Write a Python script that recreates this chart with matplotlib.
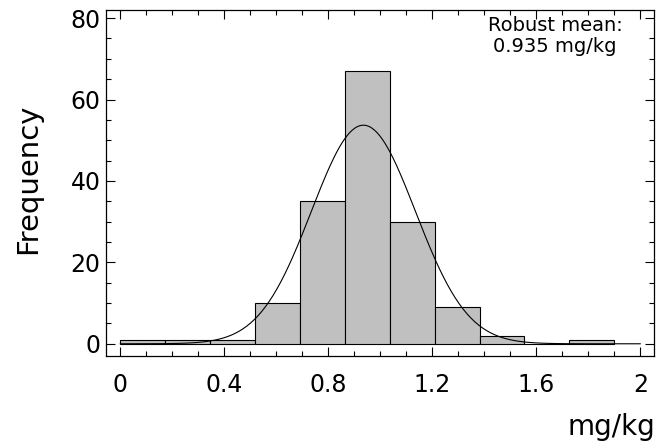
import numpy as np
import matplotlib
matplotlib.use("Agg")
import matplotlib.pyplot as plt
from matplotlib.ticker import MultipleLocator

# Data
bin_edges = np.linspace(0.0, 1.9, 12)
counts = [1, 1, 1, 10, 35, 67, 30, 9, 2, 0, 1]
fit_mean = 0.935
fit_sigma = 0.2
fit_peak = 53.7
annotation = "Robust mean:\n0.935 mg/kg"
x_ticks = [0, 0.4, 0.8, 1.2, 1.6, 2]
x_tick_labels = ["0", "0.4", "0.8", "1.2", "1.6", "2"]
y_ticks = [0, 20, 40, 60, 80]

plt.rcParams['font.family'] = ['DejaVu Sans']

W, H = 660, 443
fig = plt.figure(figsize=(6.6, 4.43), dpi=100)
ax = fig.add_axes([106 / W, 1 - 356 / H, (654.3 - 106) / W, (356 - 10) / H])

widths = np.diff(bin_edges)
ax.bar(bin_edges[:-1], counts, width=widths, align='edge',
       color='#c0c0c0', edgecolor='black', linewidth=0.8, zorder=2)

xs = np.linspace(0, 2, 400)
ys = fit_peak * np.exp(-0.5 * ((xs - fit_mean) / fit_sigma) ** 2)
ax.plot(xs, ys, color='black', linewidth=0.8, zorder=3)

ax.set_xlim(-0.055, 2.054)
ax.set_ylim(-3, 82)
ax.set_xticks(x_ticks)
ax.set_xticklabels(x_tick_labels)
ax.set_yticks(y_ticks)
ax.xaxis.set_minor_locator(MultipleLocator(0.1))
ax.yaxis.set_minor_locator(MultipleLocator(5))
ax.tick_params(which='both', direction='in', top=True, right=True,
               width=0.8, labelsize=17, colors='black')
ax.tick_params(which='major', length=6.5)
ax.tick_params(which='minor', length=3.5)
ax.tick_params(axis='x', which='major', pad=12)
ax.tick_params(axis='y', which='major', pad=4)
for s in ax.spines.values():
    s.set_linewidth(0.9)

fig.text(28 / W, 1 - 179 / H, "Frequency", fontsize=21, rotation=90,
         ha='center', va='center')
fig.text(655 / W, 1 - 441 / H, "mg/kg", fontsize=20, ha='right', va='bottom')

fig.text(555 / W, 1 - 16 / H, annotation, ha='center', va='top',
         fontsize=14, linespacing=1.1, multialignment='center')

fig.savefig("out.png", dpi=100)
